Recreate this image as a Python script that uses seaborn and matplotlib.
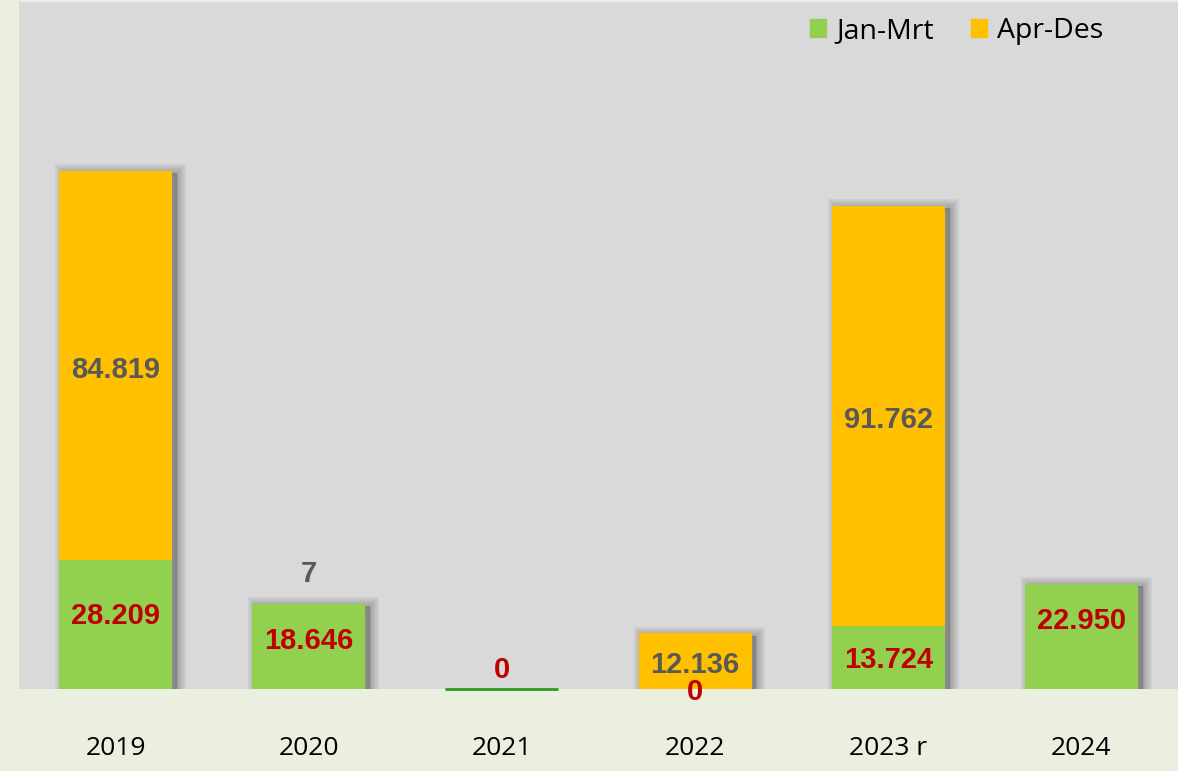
import matplotlib
matplotlib.use("Agg")
import matplotlib.pyplot as plt
import matplotlib.patheffects as pe
from matplotlib.patches import Patch
import numpy as np
import pandas as pd
import seaborn as sns

# Quarterly split per year.
years = ["2019", "2020", "2021", "2022", "2023 r", "2024"]
jan_mrt = [28209, 18646, 0, 0, 13724, 22950]
apr_des = [84819, 7, None, 12136, 91762, None]

GREEN = "#92D050"
ORANGE = "#FFC000"
RED = "#C00000"
GREY_TXT = "#595959"

df = pd.DataFrame({"year": years, "jan": jan_mrt, "apr": apr_des})
df["total"] = df["jan"] + df["apr"].fillna(0)

sns.set_theme(style="white")
plt.rcParams["font.family"] = ["Open Sans", "DejaVu Sans"]

fig = plt.figure(figsize=(11.78, 7.71), dpi=100, facecolor="#EBEFE0")
ax = fig.add_axes([19 / 1178, 82 / 771, 1159 / 1178, 687 / 771])
ax.set_facecolor("#D9D9D9")

# stacked bars: orange total first, green Jan-Mrt on top of it
sns.barplot(data=df, x="year", y="total", color=ORANGE, saturation=1, width=0.585,
            linewidth=0, ax=ax)
sns.barplot(data=df, x="year", y="jan", color=GREEN, saturation=1, width=0.585,
            linewidth=0, ax=ax)

n = len(df)
# soft drop shadow, faked with a few translucent grey outlines of growing width
shadow = [pe.PathPatchEffect(offset=(3.5, -1.5), facecolor="#404040", edgecolor="#404040",
                             linewidth=w, alpha=0.08)
          for w in (13, 10, 7, 4, 1)]
shadow += [pe.Normal()]
for i, p in enumerate(ax.patches[:n]):
    if p.get_height() > 0:
        p.set_path_effects(shadow)
for i, p in enumerate(ax.patches[n:2 * n]):
    if p.get_height() == 0 and df["total"].iloc[i] == 0:
        p.set_edgecolor("#2E9A1E")
        p.set_linewidth(2)
        p.set_clip_on(False)

ax.set_xlim(-0.5, 5.5)
ax.set_ylim(0, 150000)
ax.set_yticks([])
ax.set_xlabel("")
ax.set_ylabel("")
for s in ax.spines.values():
    s.set_visible(False)
ax.tick_params(axis="x", length=0, pad=34, labelsize=19, labelcolor="black")

lab_font = dict(family=["Liberation Sans", "DejaVu Sans"], fontsize=21,
                fontweight="bold", ha="center", va="center")


def fmt(v):
    return f"{v:,.0f}".replace(",", ".")


# Jan-Mrt labels (red), nudged like in the reference
jan_off = {0: 6, 1: 4, 2: 14, 3: -2, 4: -2, 5: 11}
for i, v in enumerate(df["jan"]):
    ax.annotate(fmt(v), (i, v / 2), xytext=(0, jan_off.get(i, 0)),
                textcoords="offset points", color=RED, annotation_clip=False, **lab_font)

# Apr-Des labels (grey)
for i, (j, v) in enumerate(zip(df["jan"], df["apr"])):
    if pd.isna(v):
        continue
    if v < 1000:
        ax.annotate(fmt(v), (i, j + v), xytext=(0, 21),
                    textcoords="offset points", color=GREY_TXT, **lab_font)
    else:
        ax.annotate(fmt(v), (i, j + v / 2), xytext=(0, -3),
                    textcoords="offset points", color=GREY_TXT, **lab_font)

handles = [Patch(color=GREEN, label="Jan-Mrt"), Patch(color=ORANGE, label="Apr-Des")]
leg = fig.legend(handles=handles, loc="center left", bbox_to_anchor=(784 / 1178, 1 - 31 / 771),
                 ncol=2, frameon=False, fontsize=20.5, handlelength=0.58, handleheight=0.58,
                 handletextpad=0.35, columnspacing=1.3)
for t in leg.get_texts():
    t.set_color("black")

fig.savefig("out.png", dpi=100, facecolor=fig.get_facecolor())
